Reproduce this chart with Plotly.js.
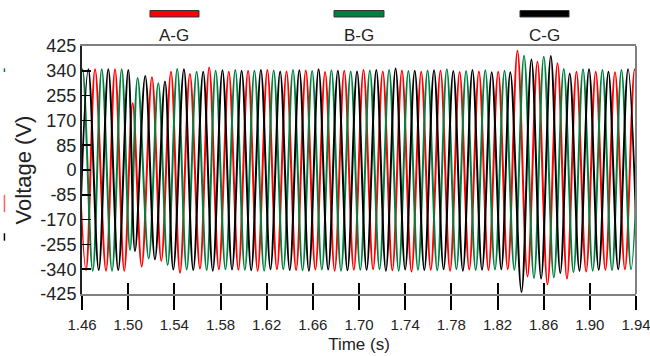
<!DOCTYPE html>
<html>
<head>
<meta charset="utf-8">
<script src="https://cdn.plot.ly/plotly-3.0.1.min.js"></script>
<style>html,body{margin:0;padding:0;background:#fff;}#chart{width:650px;height:356px;}</style>
</head>
<body>
<div id="chart"></div>
<script>
// ---- Data (extrema of each phase voltage) ----
const seriesNames = ['A-G', 'B-G', 'C-G'];

const timeAG = [1.4546,1.4635,1.4713,1.4808,1.4886,1.4966,1.5039,1.5117,1.5206,1.5287,1.5371,1.5449,1.5535,1.5622,1.5702,1.5786,1.5872,1.5955,1.6039,1.6122,1.6206,1.6289,1.6372,1.6455,1.6539,1.6622,1.6706,1.6789,1.6872,1.6955,1.7039,1.7122,1.7206,1.7289,1.7372,1.7455,1.7539,1.7622,1.7706,1.7789,1.7872,1.7955,1.8039,1.8122,1.8206,1.8289,1.8373,1.8460,1.8546,1.8633,1.8720,1.8802,1.8884,1.8968,1.9051,1.9135,1.9218,1.9304,1.9389,1.9472];
const voltAG = [345,-343,345,-345,345,-345,229,-331,318,-311,337,-352,329,-338,351,-340,337,-342,340,-345,343,-340,338,-343,341,-341,336,-345,340,-342,343,-340,338,-344,341,-348,337,-342,340,-345,336,-341,338,-343,337,-340,409,-365,371,-392,366,-372,337,-348,337,-342,335,-340,345,-340];

const timeBG = [1.4520,1.4604,1.4693,1.4771,1.4860,1.4944,1.5016,1.5082,1.5178,1.5261,1.5342,1.5425,1.5507,1.5593,1.5680,1.5758,1.5843,1.5928,1.6011,1.6094,1.6178,1.6261,1.6344,1.6428,1.6511,1.6594,1.6678,1.6761,1.6844,1.6928,1.7011,1.7094,1.7178,1.7261,1.7344,1.7428,1.7511,1.7594,1.7678,1.7761,1.7844,1.7928,1.8011,1.8094,1.8178,1.8261,1.8346,1.8430,1.8516,1.8601,1.8688,1.8774,1.8858,1.8941,1.9025,1.9109,1.9192,1.9274,1.9357,1.9440];
const voltBG = [-345,345,-345,345,-345,345,-274,315,-303,297,-326,346,-341,337,-343,340,-340,343,-342,340,-345,341,-340,343,-344,339,-341,342,-345,338,-342,341,-340,343,-345,339,-342,341,-344,345,-340,339,-343,342,-341,340,-342,392,-370,388,-368,346,-350,345,-345,343,-343,343,-340,340];

const timeCG = [1.4571,1.4655,1.4745,1.4828,1.4914,1.5001,1.5059,1.5148,1.5232,1.5319,1.5391,1.5483,1.5564,1.5650,1.5733,1.5817,1.5900,1.5983,1.6066,1.6150,1.6233,1.6317,1.6400,1.6483,1.6566,1.6650,1.6733,1.6817,1.6900,1.6983,1.7066,1.7150,1.7233,1.7317,1.7400,1.7483,1.7566,1.7650,1.7733,1.7817,1.7900,1.7983,1.8066,1.8150,1.8233,1.8311,1.8408,1.8494,1.8578,1.8662,1.8744,1.8826,1.8910,1.8993,1.9077,1.9161,1.9246,1.9331,1.9414];
const voltCG = [-343,345,-343,345,-343,343,-278,322,-306,303,-341,345,-343,337,-345,342,-341,340,-344,343,-340,338,-343,342,-345,345,-341,340,-344,338,-342,343,-345,348,-341,340,-343,342,-340,339,-345,343,-342,335,-340,335,-418,379,-372,391,-353,331,-345,345,-342,337,-340,345,-340];

const xTickVals = [1.46,1.50,1.54,1.58,1.62,1.66,1.70,1.74,1.78,1.82,1.86,1.90,1.94];
const xTickText = ['1.46','1.50','1.54','1.58','1.62','1.66','1.70','1.74','1.78','1.82','1.86','1.90','1.94'];
const yTickVals = [-425,-340,-255,-170,-85,0,85,170,255,340,425];
const yTickText = ['-425','-340','-255','-170','-85','0','85','170','255','340','425'];

// ---- Styling ----
const colors = ['#ff0000', '#008040', '#000000'];
const times = [timeAG, timeBG, timeCG];
const volts = [voltAG, voltBG, voltCG];
const FONT = 'Liberation Sans, Arial, sans-serif';

const traces = times.map((t, i) => ({
  x: t, y: volts[i], name: seriesNames[i], type: 'scatter', mode: 'lines',
  line: {color: colors[i], width: 2, shape: 'spline', smoothing: 1},
  hoverinfo: 'skip'
}));
// helper trace so the overlay axis (inner half of x ticks) is drawn
traces.push({x: [], y: [], xaxis: 'x2', type: 'scatter', mode: 'lines', showlegend: false, hoverinfo: 'skip'});

// legend drawn above the plot: bar with label beneath
const legendX = [[0.1227, 0.2112], [0.4549, 0.5451], [0.7906, 0.8791]];
const shapes = [];
const annotations = [];
seriesNames.forEach((n, i) => {
  shapes.push({type: 'rect', xref: 'paper', yref: 'paper', x0: legendX[i][0], x1: legendX[i][1], y0: 1.117, y1: 1.143,
    fillcolor: colors[i], line: {color: '#333', width: 1}});
  annotations.push({xref: 'paper', yref: 'paper', x: (legendX[i][0] + legendX[i][1]) / 2, y: 1.043,
    text: n, showarrow: false, xanchor: 'center', yanchor: 'middle', font: {family: FONT, size: 17, color: '#222'}});
});
// right frame line
shapes.push({type: 'line', xref: 'paper', yref: 'paper', x0: 1, x1: 1, y0: 0, y1: 1, line: {color: '#808080', width: 2}});
// small stray marks at far left of the reference
shapes.push({type: 'line', xref: 'paper', yref: 'paper', x0: -0.140, x1: -0.140, y0: 0.895, y1: 0.91, line: {color: '#008040', width: 1.5}});
shapes.push({type: 'line', xref: 'paper', yref: 'paper', x0: -0.140, x1: -0.140, y0: 0.33, y1: 0.40, line: {color: '#ff6060', width: 1.5}});
shapes.push({type: 'line', xref: 'paper', yref: 'paper', x0: -0.140, x1: -0.140, y0: 0.215, y1: 0.245, line: {color: '#000', width: 1.5}});

const layout = {
  width: 650, height: 356,
  margin: {l: 82, r: 14, t: 46, b: 62, pad: 0},
  paper_bgcolor: '#fff', plot_bgcolor: '#fff',
  showlegend: false,
  font: {family: FONT, color: '#222'},
  xaxis: {
    range: [1.46, 1.94], tickmode: 'array', tickvals: xTickVals, ticktext: xTickText,
    ticks: 'outside', ticklen: 14, tickwidth: 2, tickcolor: '#000',
    showline: true, linecolor: '#808080', linewidth: 2, mirror: true,
    showgrid: false, zeroline: false, ticklabeloverflow: 'allow',
    tickfont: {family: FONT, size: 15, color: '#222'}, ticklabelstandoff: 2,
    title: {text: 'Time (s)', font: {family: FONT, size: 17, color: '#222'}, standoff: 6}
  },
  xaxis2: {
    overlaying: 'x', anchor: 'y', side: 'bottom',
    range: [1.46, 1.94], tickmode: 'array', tickvals: xTickVals,
    ticks: 'inside', ticklen: 11, tickwidth: 2, tickcolor: '#000',
    showticklabels: false, showline: false, showgrid: false, zeroline: false
  },
  yaxis: {
    range: [-425, 425], tickmode: 'array', tickvals: yTickVals, ticktext: yTickText,
    ticks: 'inside', ticklen: 9, tickwidth: 1.5, tickcolor: '#000',
    showline: true, linecolor: '#222', linewidth: 2,
    showgrid: false, zeroline: false,
    tickfont: {family: FONT, size: 18, color: '#222'},
    title: {text: 'Voltage (V)', font: {family: FONT, size: 22, color: '#222'}, standoff: 3}
  },
  shapes: shapes,
  annotations: annotations
};

Plotly.newPlot('chart', traces, layout, {staticPlot: true, displayModeBar: false});
</script>
</body>
</html>
